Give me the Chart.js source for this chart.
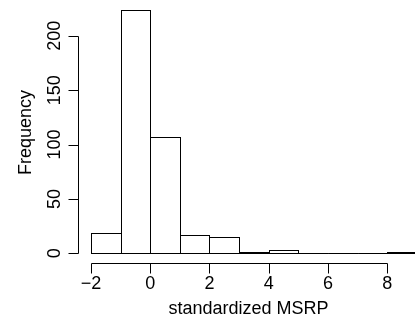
<!DOCTYPE html>
<html>
<head>
<meta charset="utf-8">
<script src="https://cdn.jsdelivr.net/npm/chart.js@4/dist/chart.umd.min.js"></script>
<style>
  html, body { margin: 0; padding: 0; background: #fff; }
  #wrap { width: 415px; height: 324px; }
</style>
</head>
<body>
<div id="wrap"><canvas id="hist" width="415" height="324"></canvas></div>
<script>
// histogram bins (breaks) and counts
const breaks = [-2, -1, 0, 1, 2, 3, 4, 5, 6, 7, 8, 9];
const counts = [19, 224, 107, 17, 15, 1, 3, 0, 0, 0, 1];
const xTicks = [-2, 0, 2, 4, 6, 8];
const yTicks = [0, 50, 100, 150, 200];
const xTitle = 'standardized MSRP';
const yTitle = 'Frequency';

const FONT = '18px "Liberation Sans", Arial, Helvetica, sans-serif';

const points = counts.map((c, i) => ({ x: (breaks[i] + breaks[i + 1]) / 2, y: c }));

function crisp(v) { return Math.round(v) + 0.5; }

// R-style axes + bar outlines
const rAxes = {
    id: 'rAxes',
    afterDatasetsDraw(chart) {
        const ctx = chart.ctx;
        const meta = chart.getDatasetMeta(0);
        ctx.save();
        ctx.strokeStyle = '#000';
        ctx.lineWidth = 1;
        meta.data.forEach(bar => {
            const l = crisp(bar.x - bar.width / 2), r = crisp(bar.x + bar.width / 2);
            const t = crisp(bar.y), b = crisp(bar.base);
            ctx.strokeRect(l, t, r - l, b - t);
        });
        ctx.restore();
    },
    afterDraw(chart) {
        const ctx = chart.ctx;
        const xs = chart.scales.x, ys = chart.scales.y;
        const area = chart.chartArea;
        const tick = 10;
        ctx.save();
        ctx.strokeStyle = '#000';
        ctx.fillStyle = '#000';
        ctx.lineWidth = 1;
        ctx.font = FONT;

        // x axis
        const ay = crisp(area.bottom);
        ctx.beginPath();
        ctx.moveTo(crisp(xs.getPixelForValue(xTicks[0])), ay);
        ctx.lineTo(crisp(xs.getPixelForValue(xTicks[xTicks.length - 1])), ay);
        xTicks.forEach(v => {
            const px = crisp(xs.getPixelForValue(v));
            ctx.moveTo(px, ay);
            ctx.lineTo(px, ay + tick);
        });
        ctx.stroke();
        ctx.textAlign = 'center';
        ctx.textBaseline = 'alphabetic';
        xTicks.forEach(v => {
            ctx.fillText(String(v).replace('-', '\u2212'), xs.getPixelForValue(v), ay + 25);
        });
        ctx.fillText(xTitle, 248.5, ay + 50.5);

        // y axis
        const ax = crisp(area.left);
        ctx.beginPath();
        ctx.moveTo(ax, crisp(ys.getPixelForValue(yTicks[0])));
        ctx.lineTo(ax, crisp(ys.getPixelForValue(yTicks[yTicks.length - 1])));
        yTicks.forEach(v => {
            const py = crisp(ys.getPixelForValue(v));
            ctx.moveTo(ax, py);
            ctx.lineTo(ax - tick, py);
        });
        ctx.stroke();
        yTicks.forEach(v => {
            ctx.save();
            ctx.translate(ax - 19, ys.getPixelForValue(v));
            ctx.rotate(-Math.PI / 2);
            ctx.textAlign = 'center';
            ctx.fillText(String(v), 0, 0);
            ctx.restore();
        });
        ctx.save();
        ctx.translate(31, (area.top + area.bottom) / 2 + 1);
        ctx.rotate(-Math.PI / 2);
        ctx.textAlign = 'center';
        ctx.fillText(yTitle, 0, 0);
        ctx.restore();

        ctx.restore();
    }
};

new Chart(document.getElementById('hist'), {
    type: 'bar',
    data: {
        datasets: [{
            data: points,
            backgroundColor: '#fff',
            borderWidth: 0,
            barPercentage: 1,
            categoryPercentage: 1
        }]
    },
    options: {
        responsive: false,
        animation: false,
        devicePixelRatio: 1,
        layout: { padding: { left: 78, top: 0, right: 0, bottom: 61 } },
        plugins: { legend: { display: false }, tooltip: { enabled: false } },
        scales: {
            x: { type: 'linear', min: -2.44, max: 8.94, offset: false, display: false },
            y: { min: -8.96, max: 232.96, display: false }
        }
    },
    plugins: [rAxes]
});
</script>
</body>
</html>
